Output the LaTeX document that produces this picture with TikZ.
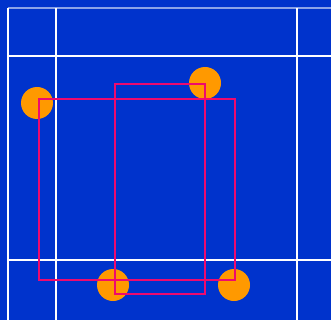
\documentclass[tikz,border=0pt]{standalone}
\usepackage{xcolor}
\definecolor{fieldblue}{HTML}{0033CC}
\definecolor{dotorange}{HTML}{FF9900}
\definecolor{boxpink}{HTML}{EE0A6E}

\begin{document}
\begin{tikzpicture}[x=1pt, y=-1pt,
  gridline/.style={draw=white, line width=1.5pt},
  faintline/.style={draw=white!55!fieldblue, line width=1.5pt},
  dot/.style={circle, fill=dotorange, minimum size=32pt, inner sep=0pt},
  frame/.style={draw=boxpink, line width=2pt}
]
% background
\fill[fieldblue] (0,0) rectangle (331,320);
\useasboundingbox (0,0) rectangle (331,320);

% grid
\draw[faintline] (8,8) -- (331,8);
\draw[gridline] (8,56) -- (331,56);
\draw[gridline] (8,260) -- (331,260);
\draw[gridline] (8,8) -- (8,320);
\draw[gridline] (56,8) -- (56,320);
\draw[gridline] (297,8) -- (297,320);

% dots
\node[dot] (d1) at (37,103) {};
\node[dot] (d2) at (205,83) {};
\node[dot] (d3) at (113,285) {};
\node[dot] (d4) at (234,285) {};

% frames
\draw[frame] (39,99) rectangle (235,280);
\draw[frame] (115,84) rectangle (205,294);
\end{tikzpicture}
\end{document}
